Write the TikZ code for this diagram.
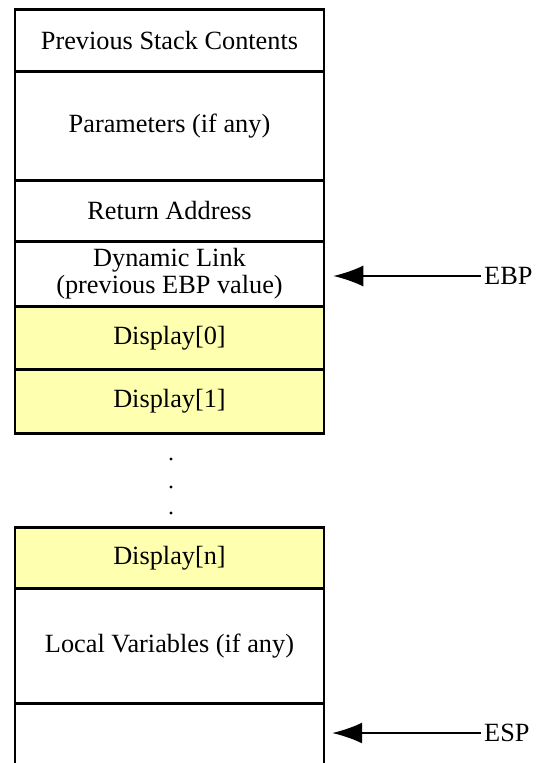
\documentclass[tikz,border=0pt]{standalone}
\usepackage{fontspec}
\setmainfont{Liberation Serif}
\usetikzlibrary{arrows.meta}
\definecolor{dispyellow}{RGB}{255,255,176}
\begin{document}
\begin{tikzpicture}[x=1pt,y=-1pt,
  cell/.style={draw=black, line width=2.5pt, minimum width=309pt, inner sep=0pt,
    anchor=north, font=\fontsize{26.3}{27}\selectfont, align=center},
  disp/.style={cell, fill=dispyellow},
  ptr/.style={line width=2pt, -{Latex[length=30pt,width=21pt]}, shorten >=8pt},
  lbl/.style={anchor=west, font=\fontsize{26.3}{27}\selectfont, inner sep=3pt},
  dotmark/.style={circle, fill=black, inner sep=0pt, minimum size=3.4pt}]
\useasboundingbox (0,0) rectangle (537,763);
\node[cell, minimum height=62pt] (prev) at (169.5,8) {Previous Stack Contents};
\node[cell, minimum height=109pt] (param) at (169.5,70) {\raisebox{3pt}{Parameters (if any)}};
\node[cell, minimum height=61pt] (ret) at (169.5,179) {\raisebox{-3pt}{Return Address}};
\node[cell, minimum height=65pt] (dyn) at (169.5,240) {Dynamic Link\\(previous EBP value)};
\node[disp, minimum height=63pt] (d0) at (169.5,305) {\raisebox{-2pt}{Display[0]}};
\node[disp, minimum height=64pt] (d1) at (169.5,368) {\raisebox{-3pt}{Display[1]}};
\node[dotmark] (dot1) at (171,459) {};
\node[dotmark] (dot2) at (171,487) {};
\node[dotmark] (dot3) at (171,513) {};
\node[disp, minimum height=61pt] (dn) at (169.5,526) {\raisebox{-2pt}{Display[n]}};
\node[cell, minimum height=115pt] (loc) at (169.5,587) {\raisebox{4pt}{Local Variables (if any)}};
\node[minimum width=309pt, minimum height=80pt, inner sep=0pt, anchor=north] (espcell) at (169.5,702) {};
\draw[line width=2.5pt] (espcell.north west) -- (espcell.south west)
  (espcell.north east) -- (espcell.south east);
\node[lbl] (ebp) at (481,276) {EBP};
\node[lbl] (esp) at (481,733) {ESP};
\draw[ptr] (ebp.west) -- (ebp.west -| dyn.east);
\draw[ptr] (esp.west) -- (esp.west -| espcell.east);
\end{tikzpicture}
\end{document}
